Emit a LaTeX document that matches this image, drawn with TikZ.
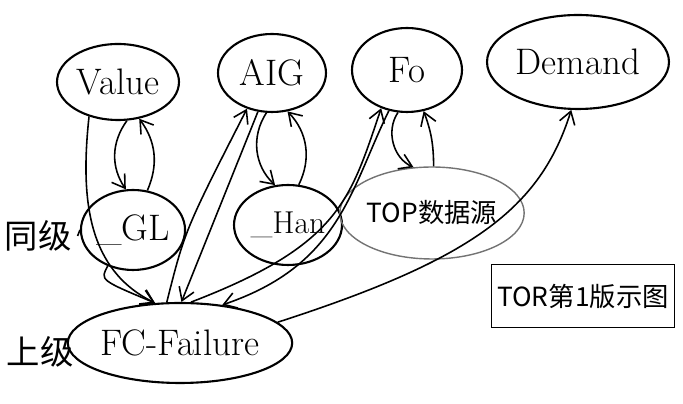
\documentclass[tikz,border=0pt]{standalone}
\usepackage{fontspec}
\newfontfamily\cjk{Noto Sans CJK SC}
\usetikzlibrary{shapes.geometric,arrows.meta}
\tikzset{
  bubble/.style={draw, ellipse, line width=1.2pt, inner sep=0pt, font=\fontsize{21}{24}\selectfont},
  link/.style={line width=0.9pt, -{Straight Barb[length=7pt,width=9pt]}},
}
\begin{document}
\begin{tikzpicture}[x=0.02cm, y=-0.02cm]
    \useasboundingbox (0,0) rectangle (683,404);
    \node[bubble, minimum width=2.44cm, minimum height=1.52cm] (value) at (118,82) {Value};
    \node[bubble, minimum width=2.16cm, minimum height=1.56cm] (aig) at (272,73) {AIG};
    \node[bubble, minimum width=2.2cm, minimum height=1.68cm] (fo) at (407,70) {Fo};
    \node[bubble, minimum width=3.64cm, minimum height=1.88cm] (demand) at (578,62) {Demand};
    \node[bubble, minimum width=1.88cm, minimum height=1.6cm] (gl) at (133,230) {\_GL};
    \node[bubble, minimum width=2.16cm, minimum height=1.6cm, font=\fontsize{18}{20}\selectfont] (han) at (288,225) {\_Han};
    \node[bubble, draw=black!55, line width=0.8pt, minimum width=3cm, minimum height=1.84cm,
      font=\cjk\fontsize{15}{17}\selectfont] (top) at (432,213) {TOP数据源};
    \node[bubble, minimum width=3.84cm, minimum height=1.6cm] (fc) at (180,343) {FC-Failure};
    \node[draw, line width=1pt, minimum width=3.46cm, minimum height=1.26cm,
      font=\cjk\fontsize{15}{17}\selectfont] (legend) at (583,296) {TOR第1版示图};
    \node[font=\cjk\fontsize{19}{21}\selectfont] (peer) at (38,236) {同级};
    \node[font=\cjk\fontsize{19}{21}\selectfont] (upper) at (40,352) {上级};
    % level mark
    \draw[line width=0.9pt] (peer.east) -- (gl.west);
    % Value and GL
    \draw[link] (value.283) to[bend right=35] (gl.100);
    \draw[link] (gl.70) to[bend right=30] (value.300);
    \draw[link] (value.230) .. controls (80,200) and (88,270) .. (fc.122);
    \draw[link] (gl.235) .. controls (100,280) .. (fc.122);
    % AIG and Han
    \draw[link] (aig.262) to[bend right=40] (han.108);
    \draw[link] (han.75) to[bend right=35] (aig.292);
    \draw[link] (fc.108) .. controls (185,230) .. (aig.235);
    \draw[link] (aig.250) -- (fc.88);
    % Fo and TOP
    \draw[link] (fo.258) to[bend right=50] (top.112);
    \draw[link] (top.88) to[bend right=10] (fo.292);
    \draw[link] (fc.75) .. controls (340,245) and (350,200) .. (fo.236);
    \draw[link] (fo.246) .. controls (350,190) and (340,265) .. (fc.42);
    % Demand
    \draw[link] (fc.12) .. controls (470,260) and (540,210) .. (demand.262);
\end{tikzpicture}
\end{document}
